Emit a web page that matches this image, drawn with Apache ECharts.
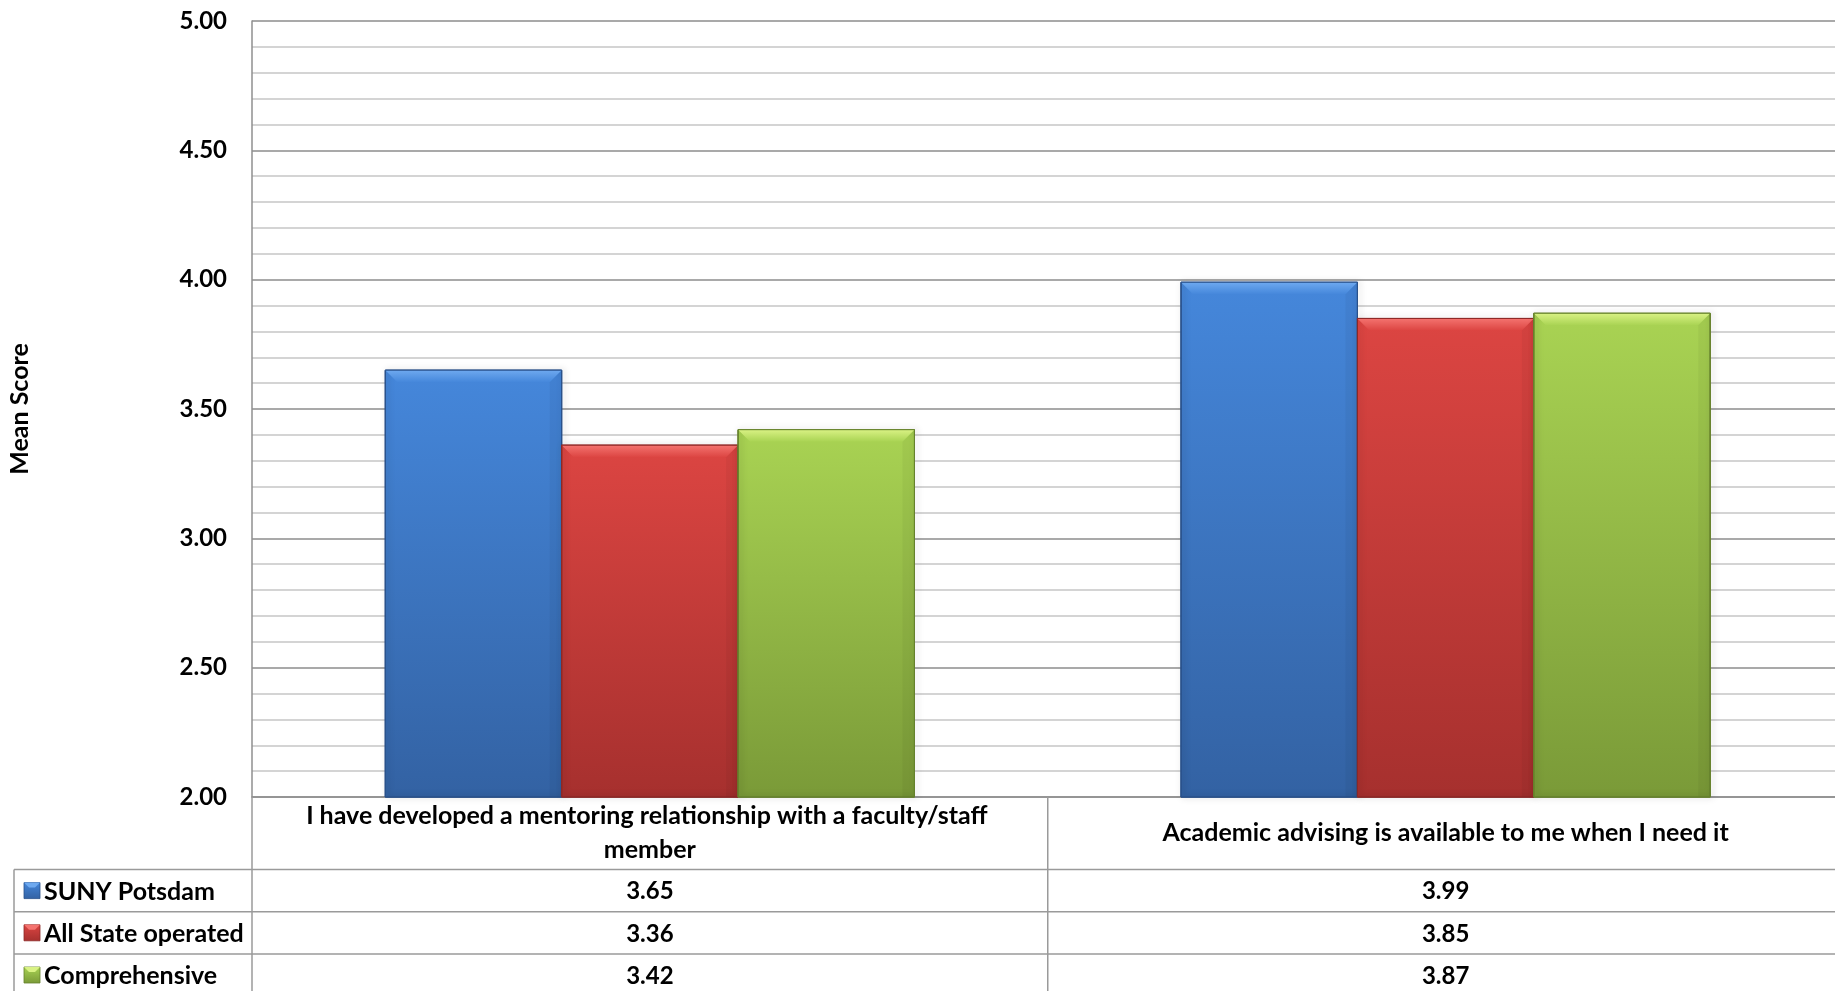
<!DOCTYPE html>
<html><head><meta charset="utf-8">
<script src="https://cdn.jsdelivr.net/npm/echarts@6/dist/echarts.min.js"></script>
<style>html,body{margin:0;padding:0;background:#fff}#c{width:1835px;height:991px}</style>
</head><body><div id="c"></div>
<script>
const categories = ['I have developed a mentoring relationship with a faculty/staff member', 'Academic advising is available to me when I need it'];
const seriesNames = ['SUNY Potsdam', 'All State operated', 'Comprehensive'];
const potsdam = [3.65, 3.99];
const allState = [3.36, 3.85];
const comprehensive = [3.42, 3.87];
const yMin = 2, yMax = 5, yStep = 0.5;

const FONT = 'Lato, "Open Sans", sans-serif';
const palettes = [
  {top:'#4587DB', bot:'#3362A3', bevel:'#6EA9EF', edge:'#2A528C'},
  {top:'#DC4542', bot:'#A6302E', bevel:'#F4736F', edge:'#8E2826'},
  {top:'#A9D353', bot:'#7A9A38', bevel:'#D9F284', edge:'#66822C'}
];
function grad(p){return new echarts.graphic.LinearGradient(0,0,0,1,[{offset:0,color:p.top},{offset:1,color:p.bot}]);}

const GRID_L = 252, GRID_T = 21, GRID_B_Y = 797, RIGHT_EXT = 1843.5;
const ROW_H = 42.2, HEADER_H = 72.5;
const GROUP_FRAC = 0.665;

function makeRender(si){
  return function(params, api){
    const ci = api.value(0), v = api.value(1);
    const base = api.coord([ci, yMin]);
    const top = api.coord([ci, v]);
    const catW = api.size([1, 0])[0];
    const gW = catW * GROUP_FRAC, bW = gW / 3;
    const x = base[0] - gW / 2 + si * bW;
    const y = top[1], h = base[1] - top[1];
    const p = palettes[si];
    const b = 12;
    return {type:'group', children:[
      {type:'rect', shape:{x:x, y:y, width:bW, height:h}, style:{fill:grad(p), stroke:p.edge, lineWidth:1, shadowBlur:6, shadowColor:'rgba(0,0,0,0.25)', shadowOffsetX:2, shadowOffsetY:0}},
      {type:'polygon', shape:{points:[[x,y],[x+bW,y],[x+bW-b,y+b],[x+b,y+b]]}, style:{fill:new echarts.graphic.LinearGradient(0,0,0,1,[{offset:0,color:p.bevel},{offset:1,color:p.top}])}},
      {type:'polygon', shape:{points:[[x+bW,y],[x+bW-b,y+b],[x+bW-b,y+h],[x+bW,y+h]]}, style:{fill:'rgba(0,0,0,0.04)'}},
      {type:'rect', shape:{x:x, y:y, width:bW, height:h}, style:{fill:'none', stroke:p.edge, lineWidth:1}}
    ]};
  };
}

const dataSets = [potsdam, allState, comprehensive];
const series = dataSets.map((arr, si) => ({
  name: seriesNames[si],
  type: 'custom',
  renderItem: makeRender(si),
  encode: {x: 0, y: 1},
  itemStyle: {color: grad(palettes[si])},
  data: arr.map((v, i) => [i, v]),
  z: 3
}));

const chart = echarts.init(document.getElementById('c'));
chart.setOption({
  animation: false,
  backgroundColor: '#fff',
  grid: {left: GRID_L, top: GRID_T, right: 1835 - RIGHT_EXT, bottom: 991 - GRID_B_Y, containLabel: false, outerBoundsMode: 'none'},
  xAxis: {
    type: 'category', data: categories, boundaryGap: true,
    axisTick: {show: false},
    axisLine: {lineStyle: {color: '#8f8f8f', width: 1.5}},
    axisLabel: {
      interval: 0, margin: 36, verticalAlign: 'middle', hideOverlap: false,
      color: '#000', fontFamily: FONT, fontWeight: 700, fontSize: 25, lineHeight: 34,
      width: 720, overflow: 'break', align: 'center'
    }
  },
  yAxis: {
    type: 'value', min: yMin, max: yMax, interval: yStep,
    name: 'Mean Score', nameLocation: 'middle', nameRotate: 90, nameGap: 220,
    nameTextStyle: {color: '#000', fontFamily: FONT, fontWeight: 700, fontSize: 25},
    axisLine: {show: true, lineStyle: {color: '#8f8f8f', width: 1.5}},
    axisTick: {show: false},
    axisLabel: {margin: 25, color: '#000', fontFamily: FONT, fontWeight: 700, fontSize: 24, formatter: v => v.toFixed(2)},
    splitLine: {lineStyle: {color: '#8c8c8c', width: 1.5}},
    minorTick: {show: false, splitNumber: 5},
    minorSplitLine: {show: true, lineStyle: {color: '#c6c6c6', width: 1.5}}
  },
  series: series
});

// table built from axis positions
const lineStyle = {stroke: '#9a9a9a', lineWidth: 1.5};
const g = [];
const rowTop = GRID_B_Y + HEADER_H;
const tableLeft = 14;
const centers = categories.map((c, i) => chart.convertToPixel({xAxisIndex: 0}, i));
const catW = centers.length > 1 ? centers[1] - centers[0] : 0;
for (let r = 0; r < 3; r++) {
  const y = rowTop + r * ROW_H;
  g.push({type: 'line', shape: {x1: tableLeft, y1: y, x2: 1835, y2: y}, style: lineStyle, z: 10});
}
g.push({type: 'line', shape: {x1: tableLeft, y1: rowTop, x2: tableLeft, y2: 991}, style: lineStyle, z: 10});
g.push({type: 'line', shape: {x1: GRID_L, y1: GRID_B_Y, x2: GRID_L, y2: 991}, style: lineStyle, z: 10});
for (let i = 1; i < categories.length; i++) {
  const x = centers[i] - catW / 2;
  g.push({type: 'line', shape: {x1: x, y1: GRID_B_Y, x2: x, y2: 991}, style: lineStyle, z: 10});
}
dataSets.forEach((arr, si) => {
  const cy = rowTop + si * ROW_H + ROW_H / 2;
  g.push({type: 'rect', shape: {x: 24, y: cy - 8, width: 16, height: 16}, z: 11,
    style: {fill: grad(palettes[si]), stroke: palettes[si].edge, lineWidth: 0.8}});
  g.push({type: 'polygon', shape: {points: [[24, cy - 8], [40, cy - 8], [35, cy - 3], [29, cy - 3]]}, z: 12,
    style: {fill: palettes[si].bevel}});
  g.push({type: 'text', x: 44, y: cy + 1, z: 11,
    style: {text: seriesNames[si], fill: '#000', font: '700 25px ' + FONT, align: 'left', verticalAlign: 'middle'}});
  arr.forEach((v, ci) => {
    g.push({type: 'text', x: centers[ci], y: cy + 1, z: 11,
      style: {text: v.toFixed(2), fill: '#000', font: '700 24px ' + FONT, align: 'center', verticalAlign: 'middle'}});
  });
});
chart.setOption({graphic: g});
</script></body></html>
